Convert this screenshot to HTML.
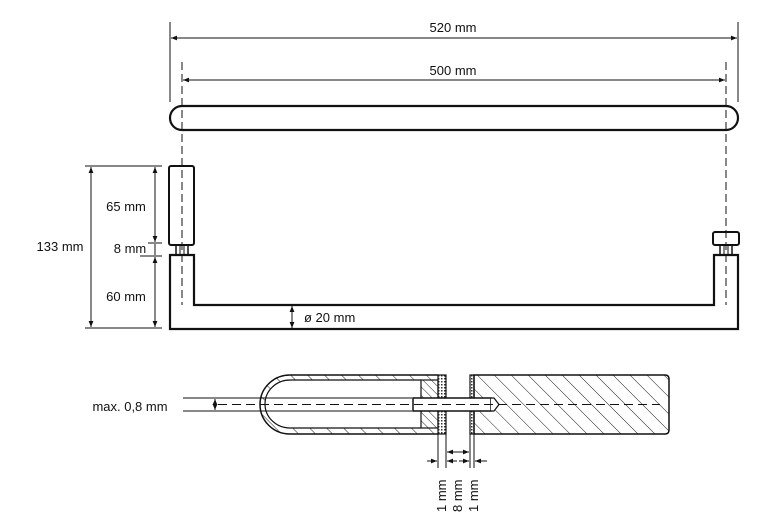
<!DOCTYPE html>
<html><head><meta charset="utf-8"><style>
html,body{margin:0;padding:0;background:#fff;}
svg{display:block;font-family:"Liberation Sans",sans-serif;}
</style></head><body>
<svg width="761" height="524" viewBox="0 0 761 524" xmlns="http://www.w3.org/2000/svg">
<defs>
<pattern id="h1" patternUnits="userSpaceOnUse" width="12" height="12" patternTransform="rotate(-45)">
<line x1="0" y1="0" x2="0" y2="12" stroke="#222" stroke-width="1"/></pattern>
<pattern id="h2" patternUnits="userSpaceOnUse" width="6" height="6" patternTransform="rotate(-45)">
<line x1="0" y1="0" x2="0" y2="6" stroke="#222" stroke-width="1"/></pattern>
<pattern id="dots" patternUnits="userSpaceOnUse" width="3" height="3">
<rect x="0" y="0" width="1.5" height="1.5" fill="#333"/></pattern>
<marker id="a" viewBox="0 0 10 10" refX="10" refY="5" markerWidth="6" markerHeight="6" orient="auto-start-reverse">
<path d="M0,1 L10,5 L0,9 z" fill="#111"/></marker>
</defs>
<g stroke="#111" fill="none">
<line x1="170" y1="22" x2="170" y2="102" stroke-width="1"/>
<line x1="738" y1="22" x2="738" y2="102" stroke-width="1"/>
<line x1="171" y1="38" x2="737" y2="38" stroke-width="1" marker-start="url(#a)" marker-end="url(#a)"/>
<line x1="183" y1="80" x2="725" y2="80" stroke-width="1" marker-start="url(#a)" marker-end="url(#a)"/>
<line x1="182" y1="62" x2="182" y2="305" stroke-width="1" stroke-dasharray="8,4"/>
<line x1="726" y1="62" x2="726" y2="305" stroke-width="1" stroke-dasharray="8,4"/>
<rect x="170" y="106" width="568" height="24" rx="12" stroke-width="2.2"/>
<path d="M170,255 L170,329 L738,329 L738,255 L714,255 L714,305 L194,305 L194,255 Z" stroke-width="2.2"/>
<rect x="169" y="166" width="25" height="79" rx="2" stroke-width="2"/>
<rect x="176" y="245" width="12" height="10" stroke-width="1.5"/>
<line x1="180" y1="245" x2="180" y2="255" stroke-width="1"/>
<line x1="184" y1="245" x2="184" y2="255" stroke-width="1"/>
<rect x="713" y="232" width="26" height="13" rx="2" stroke-width="2"/>
<rect x="720" y="245" width="12" height="10" stroke-width="1.5"/>
<line x1="724" y1="245" x2="724" y2="255" stroke-width="1"/>
<line x1="728" y1="245" x2="728" y2="255" stroke-width="1"/>
<line x1="85" y1="166" x2="162" y2="166" stroke-width="1"/>
<line x1="85" y1="328" x2="162" y2="328" stroke-width="1"/>
<line x1="148" y1="243" x2="162" y2="243" stroke-width="1"/>
<line x1="140" y1="256" x2="162" y2="256" stroke-width="1"/>
<line x1="91" y1="167" x2="91" y2="327" stroke-width="1" marker-start="url(#a)" marker-end="url(#a)"/>
<line x1="155" y1="167" x2="155" y2="242" stroke-width="1" marker-start="url(#a)" marker-end="url(#a)"/>
<line x1="155" y1="244" x2="155" y2="255" stroke-width="1"/>
<line x1="155" y1="257" x2="155" y2="327" stroke-width="1" marker-start="url(#a)" marker-end="url(#a)"/>
<line x1="292" y1="306" x2="292" y2="328" stroke-width="1" marker-start="url(#a)" marker-end="url(#a)"/>
<path d="M446,375 L290,375 A30,29.5 0 0 0 290,434 L446,434 Z" fill="url(#h1)" stroke="none"/>
<path d="M446,380 L290,380 A25,24 0 0 0 290,428 L446,428 Z" fill="#fff" stroke="none"/>
<path d="M438,375 L290,375 A30,29.5 0 0 0 290,434 L438,434" stroke-width="1.5"/>
<path d="M421,380 L290,380 A25,24 0 0 0 290,428 L421,428" stroke-width="1.2"/>
<rect x="421" y="380" width="17" height="48" fill="url(#h2)" stroke-width="1.2"/>
<rect x="438" y="375" width="8" height="59" fill="url(#dots)" stroke-width="1.2"/>
<rect x="470" y="375" width="4" height="59" fill="url(#dots)" stroke-width="1.2"/>
<path d="M474,375 L665,375 Q669,375 669,379 L669,430 Q669,434 665,434 L474,434 Z" fill="url(#h1)" stroke-width="1.5"/>
<line x1="183" y1="398" x2="412" y2="398" stroke-width="1"/>
<line x1="183" y1="411" x2="412" y2="411" stroke-width="1"/>
<rect x="413" y="398" width="78" height="13" fill="#fff" stroke-width="1.5"/>
<path d="M491,398 L494,398 L499,404.5 L494,411 L491,411" fill="#fff" stroke-width="1.2"/>
<line x1="218" y1="404.5" x2="660" y2="404.5" stroke-width="1" stroke-dasharray="9,5"/>
<line x1="215" y1="399" x2="215" y2="410" stroke-width="1" marker-start="url(#a)" marker-end="url(#a)"/>
<line x1="438" y1="434" x2="438" y2="468" stroke-width="1"/>
<line x1="446" y1="434" x2="446" y2="468" stroke-width="1"/>
<line x1="470" y1="434" x2="470" y2="468" stroke-width="1"/>
<line x1="474" y1="434" x2="474" y2="468" stroke-width="1"/>
<line x1="447" y1="452" x2="469" y2="452" stroke-width="1" marker-start="url(#a)" marker-end="url(#a)"/>
<line x1="427" y1="461" x2="437" y2="461" stroke-width="1" marker-end="url(#a)"/>
<line x1="457" y1="461" x2="447" y2="461" stroke-width="1" marker-end="url(#a)"/>
<line x1="459" y1="461" x2="469" y2="461" stroke-width="1" marker-end="url(#a)"/>
<line x1="487" y1="461" x2="475" y2="461" stroke-width="1" marker-end="url(#a)"/>
</g>
<g fill="#111" font-size="13">
<text x="453" y="32" text-anchor="middle">520 mm</text>
<text x="453" y="75" text-anchor="middle">500 mm</text>
<text x="126" y="211" text-anchor="middle">65 mm</text>
<text x="130" y="253" text-anchor="middle">8 mm</text>
<text x="60" y="251" text-anchor="middle">133 mm</text>
<text x="126" y="301" text-anchor="middle">60 mm</text>
<text x="304" y="322">ø  20 mm</text>
<text x="130" y="411" text-anchor="middle">max. 0,8 mm</text>
<text transform="translate(446,512) rotate(-90)">1 mm</text>
<text transform="translate(462,512) rotate(-90)">8 mm</text>
<text transform="translate(478,512) rotate(-90)">1 mm</text>
</g>
</svg>
</body></html>
